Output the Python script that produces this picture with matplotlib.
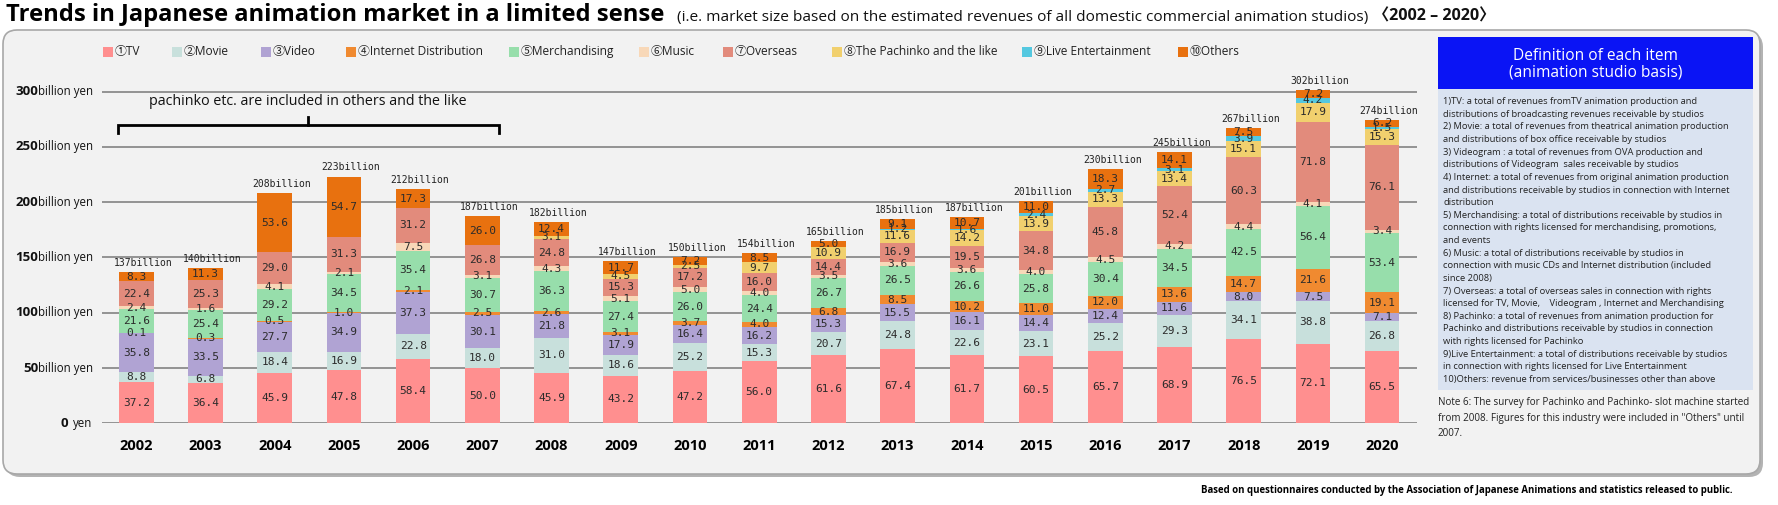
import matplotlib
matplotlib.use("Agg")
import matplotlib.pyplot as plt
from matplotlib.patches import FancyBboxPatch, Rectangle
import matplotlib.transforms as mtransforms

# ---------------- data ----------------
years = [2002, 2003, 2004, 2005, 2006, 2007, 2008, 2009, 2010, 2011,
         2012, 2013, 2014, 2015, 2016, 2017, 2018, 2019, 2020]
tv = [37.2, 36.4, 45.9, 47.8, 58.4, 50.0, 45.9, 43.2, 47.2, 56.0,
      61.6, 67.4, 61.7, 60.5, 65.7, 68.9, 76.5, 72.1, 65.5]
movie = [8.8, 6.8, 18.4, 16.9, 22.8, 18.0, 31.0, 18.6, 25.2, 15.3,
         20.7, 24.8, 22.6, 23.1, 25.2, 29.3, 34.1, 38.8, 26.8]
video = [35.8, 33.5, 27.7, 34.9, 37.3, 30.1, 21.8, 17.9, 16.4, 16.2,
         15.3, 15.5, 16.1, 14.4, 12.4, 11.6, 8.0, 7.5, 7.1]
internet = [0.1, 0.3, 0.5, 1.0, 2.1, 2.5, 2.6, 3.1, 3.7, 4.0,
            6.8, 8.5, 10.2, 11.0, 12.0, 13.6, 14.7, 21.6, 19.1]
merch = [21.6, 25.4, 29.2, 34.5, 35.4, 30.7, 36.3, 27.4, 26.0, 24.4,
         26.7, 26.5, 26.6, 25.8, 30.4, 34.5, 42.5, 56.4, 53.4]
music = [2.4, 1.6, 4.1, 2.1, 7.5, 3.1, 4.3, 5.1, 5.0, 4.0,
         3.5, 3.6, 3.6, 4.0, 4.5, 4.2, 4.4, 4.1, 3.4]
overseas = [22.4, 25.3, 29.0, 31.3, 31.2, 26.8, 24.8, 15.3, 17.2, 16.0,
            14.4, 16.9, 19.5, 34.8, 45.8, 52.4, 60.3, 71.8, 76.1]
pachinko = [0, 0, 0, 0, 0, 0, 3.1, 4.5, 2.5, 9.7,
            10.9, 11.6, 14.2, 13.9, 13.3, 13.4, 15.1, 17.9, 15.3]
live = [0, 0, 0, 0, 0, 0, 0, 0, 0, 0,
        0, 1.2, 1.6, 2.4, 2.7, 3.1, 3.9, 4.2, 1.5]
others = [8.3, 11.3, 53.6, 54.7, 17.3, 26.0, 12.4, 11.7, 7.2, 8.5,
          5.0, 9.1, 10.7, 11.0, 18.3, 14.1, 7.5, 7.2, 6.2]
totals = [137, 140, 208, 223, 212, 187, 182, 147, 150, 154,
          165, 185, 187, 201, 230, 245, 267, 302, 274]

series_names = ["①TV", "②Movie", "③Video", "④Internet Distribution", "⑤Merchandising",
                "⑥Music", "⑦Overseas", "⑧The Pachinko and the like",
                "⑨Live Entertainment", "⑩Others"]
series = [tv, movie, video, internet, merch, music, overseas, pachinko, live, others]
colors = ["#ff8f8f", "#c8e0dc", "#b0a3d3", "#f08a30", "#97deab",
          "#f8d8b8", "#e28b7c", "#f1d06e", "#54c8e0", "#e8710f"]

yticks = [0, 50, 100, 150, 200, 250, 300]

title = "Trends in Japanese animation market in a limited sense"
subtitle = "(i.e. market size based on the estimated revenues of all domestic commercial animation studios)"
period = "〈2002 – 2020〉"
bracket_note = "pachinko etc. are included in others and the like"
def_header = "Definition of each item\n(animation studio basis)"
def_lines = [
    "1)TV: a total of revenues fromTV animation production and",
    "distributions of broadcasting revenues receivable by studios",
    "2) Movie: a total of revenues from theatrical animation production",
    "and distributions of box office receivable by studios",
    "3) Videogram : a total of revenues from OVA production and",
    "distributions of Videogram  sales receivable by studios",
    "4) Internet: a total of revenues from original animation production",
    "and distributions receivable by studios in connection with Internet",
    "distribution",
    "5) Merchandising: a total of distributions receivable by studios in",
    "connection with rights licensed for merchandising, promotions,",
    "and events",
    "6) Music: a total of distributions receivable by studios in",
    "connection with music CDs and Internet distribution (included",
    "since 2008)",
    "7) Overseas: a total of overseas sales in connection with rights",
    "licensed for TV, Movie,    Videogram , Internet and Merchandising",
    "8) Pachinko: a total of revenues from animation production for",
    "Pachinko and distributions receivable by studios in connection",
    "with rights licensed for Pachinko",
    "9)Live Entertainment: a total of distributions receivable by studios",
    "in connection with rights licensed for Live Entertainment",
    "10)Others: revenue from services/businesses other than above",
]
note_lines = [
    "Note 6: The survey for Pachinko and Pachinko- slot machine started",
    "from 2008. Figures for this industry were included in \"Others\" until",
    "2007.",
]
footer = "Based on questionnaires conducted by the Association of Japanese Animations and statistics released to public."

# ---------------- layout ----------------
W, H = 1778, 505
fig = plt.figure(figsize=(W / 100, H / 100), dpi=100)
fig.patch.set_facecolor("white")
renderer = fig.canvas.get_renderer()
SANS = ["Open Sans", "Noto Sans CJK JP", "DejaVu Sans"]
MONO = ["DejaVu Sans Mono"]
PANEL_BG = "#f2f2f2"


def fx(x):
    return x / W


def fy(y):
    return 1 - y / H


def fit(t, target_px):
    w = t.get_window_extent(renderer).width
    t.set_fontsize(t.get_fontsize() * target_px / w)
    return t


pix = mtransforms.IdentityTransform()


def ypix(y):
    return H - y


# panel (rounded) with shadow
shadow = FancyBboxPatch((6, ypix(477)), 1757, 444, boxstyle="round,pad=0,rounding_size=14",
                        transform=pix, facecolor="#b3b3b3", edgecolor="none", zorder=0)
panel = FancyBboxPatch((3, ypix(474)), 1757, 444, boxstyle="round,pad=0,rounding_size=14",
                       transform=pix, facecolor=PANEL_BG, edgecolor="#a8a8a8", lw=1.2, zorder=0.1)
fig.patches.extend([shadow, panel])

# axes
ax_left, ax_right = 101.7, 1416.7
y0_px, y300_px = 423.3, 91.7
px_per_unit = (y0_px - y300_px) / 300
ax_top = 69.7
ax = fig.add_axes([fx(ax_left), fy(y0_px), (ax_right - ax_left) / W, (y0_px - ax_top) / H])
ax.set_zorder(1)
ax.set_facecolor("none")
ax.set_xlim(-0.5, len(years) - 0.5)
ax.set_ylim(0, (y0_px - ax_top) / px_per_unit)
for s in ax.spines.values():
    s.set_visible(False)
ax.set_yticks([])
ax.set_xticks(range(len(years)))
ax.set_xticklabels([str(y) for y in years], fontsize=10.5, fontweight="bold", family=SANS)
ax.tick_params(axis="x", length=0, pad=11)

for v in yticks:
    ax.axhline(v, color="#8c8c8c", lw=1.3, zorder=1)

# stacked bars
bw = 0.5
x = list(range(len(years)))
bottom = [0.0] * len(years)
for vals, col in zip(series, colors):
    ax.bar(x, vals, bw, bottom=bottom, color=col, edgecolor="none", zorder=2)
    for i, v in enumerate(vals):
        if v > 0:
            ax.text(x[i], bottom[i] + v / 2, f"{v:.1f}", ha="center", va="center",
                    fontsize=8, family=MONO, color="#2b2b2b", zorder=3)
    bottom = [b + v for b, v in zip(bottom, vals)]

for i, t in enumerate(totals):
    ax.annotate(f"{t}billion", (x[i], bottom[i]), xytext=(5, 3), textcoords="offset points",
                ha="center", va="bottom", fontsize=7, family=MONO, color="#222222", zorder=3)

# y tick labels (number bold + unit)
blend = mtransforms.blended_transform_factory(fig.transFigure, ax.transData)
for v in yticks:
    unit = "billion yen" if v else "yen"
    tu = fig.text(fx(92.7), v, unit, transform=blend, ha="right", va="center",
                  fontsize=8.3, family=SANS, color="#111111", zorder=3)
    wu = tu.get_window_extent(renderer).width
    gap = -1 if v else 5
    fig.text(fx(92.7 - wu - gap), v, str(v), transform=blend, ha="right", va="center",
             fontsize=9.5, fontweight="bold", family=SANS, color="#111111", zorder=3)

# bracket over 2002-2007
i0, i1 = years.index(2002), years.index(2007)
bx0, bx1 = x[i0] - bw / 2 - 0.02, x[i1] + bw / 2 - 0.01
bmid = (bx0 + bx1) / 2
ax.plot([bx0, bx0, bx1, bx1], [263, 270, 270, 263], color="black", lw=2, zorder=3,
        solid_joinstyle="miter")
ax.plot([bmid, bmid], [270, 277.5], color="black", lw=2, zorder=3)
tb = ax.text(bmid, 291, bracket_note, ha="center", va="center", fontsize=9.5,
             family=SANS, color="#111111")
fit(tb, 323)

# legend
leg_x = [103, 172, 261, 346, 509, 639, 723, 832, 1022, 1178]
leg_y = 52
for lx, name, col in zip(leg_x, series_names, colors):
    fig.patches.append(Rectangle((lx, ypix(leg_y) - 5), 10, 10, transform=pix,
                                 facecolor=col, edgecolor="none", zorder=2))
    fig.text(fx(lx + 12), fy(leg_y), name, ha="left", va="center", fontsize=8.6,
             family=SANS, color="#222222", zorder=3)

# title
tt = fig.text(fx(6), fy(15), title, ha="left", va="center", fontsize=17,
              fontweight="bold", family=SANS, color="black")
fit(tt, 657)
ts = fig.text(fx(677), fy(18), subtitle, ha="left", va="center", fontsize=10,
              family=SANS, color="#111111")
fit(ts, 690)
tp = fig.text(fx(1373), fy(17), period, ha="left", va="center", fontsize=12,
              fontweight="bold", family=SANS, color="#111111")
fit(tp, 122)

# definition box
fig.patches.append(Rectangle((1438, ypix(89)), 315, 52, transform=pix,
                             facecolor="#0a14f5", edgecolor="none", zorder=1))
fig.patches.append(Rectangle((1438, ypix(390)), 315, 301, transform=pix,
                             facecolor="#dae3f1", edgecolor="none", zorder=1))
th = fig.text(fx(1595.5), fy(64), def_header, ha="center", va="center", fontsize=12,
              family=SANS, color="white", linespacing=1.05, zorder=3)
w_h = max(th.get_window_extent(renderer).width, 1)
th.set_fontsize(th.get_fontsize() * 172 / w_h)

def_texts = []
for k, line in enumerate(def_lines):
    def_texts.append(fig.text(fx(1443), fy(101.7 + 12.62 * k), line, ha="left",
                              va="center", fontsize=7, family=SANS, color="#222222", zorder=3))
wref = def_texts[7].get_window_extent(renderer).width
scale = 290 / wref
for t in def_texts:
    t.set_fontsize(t.get_fontsize() * scale)

note_texts = []
for k, line in enumerate(note_lines):
    note_texts.append(fig.text(fx(1438), fy(403 + 15.5 * k), line, ha="left", va="center",
                               fontsize=7.5, family=SANS, color="#222222", zorder=3))
wref = note_texts[0].get_window_extent(renderer).width
scale = 311 / wref
for t in note_texts:
    t.set_fontsize(t.get_fontsize() * scale)

tf = fig.text(fx(1201), fy(490), footer, ha="left", va="center", fontsize=7,
              fontweight="bold", family=SANS, color="black", zorder=3)
fit(tf, 535)

fig.savefig("out.png", dpi=100, facecolor="white")
